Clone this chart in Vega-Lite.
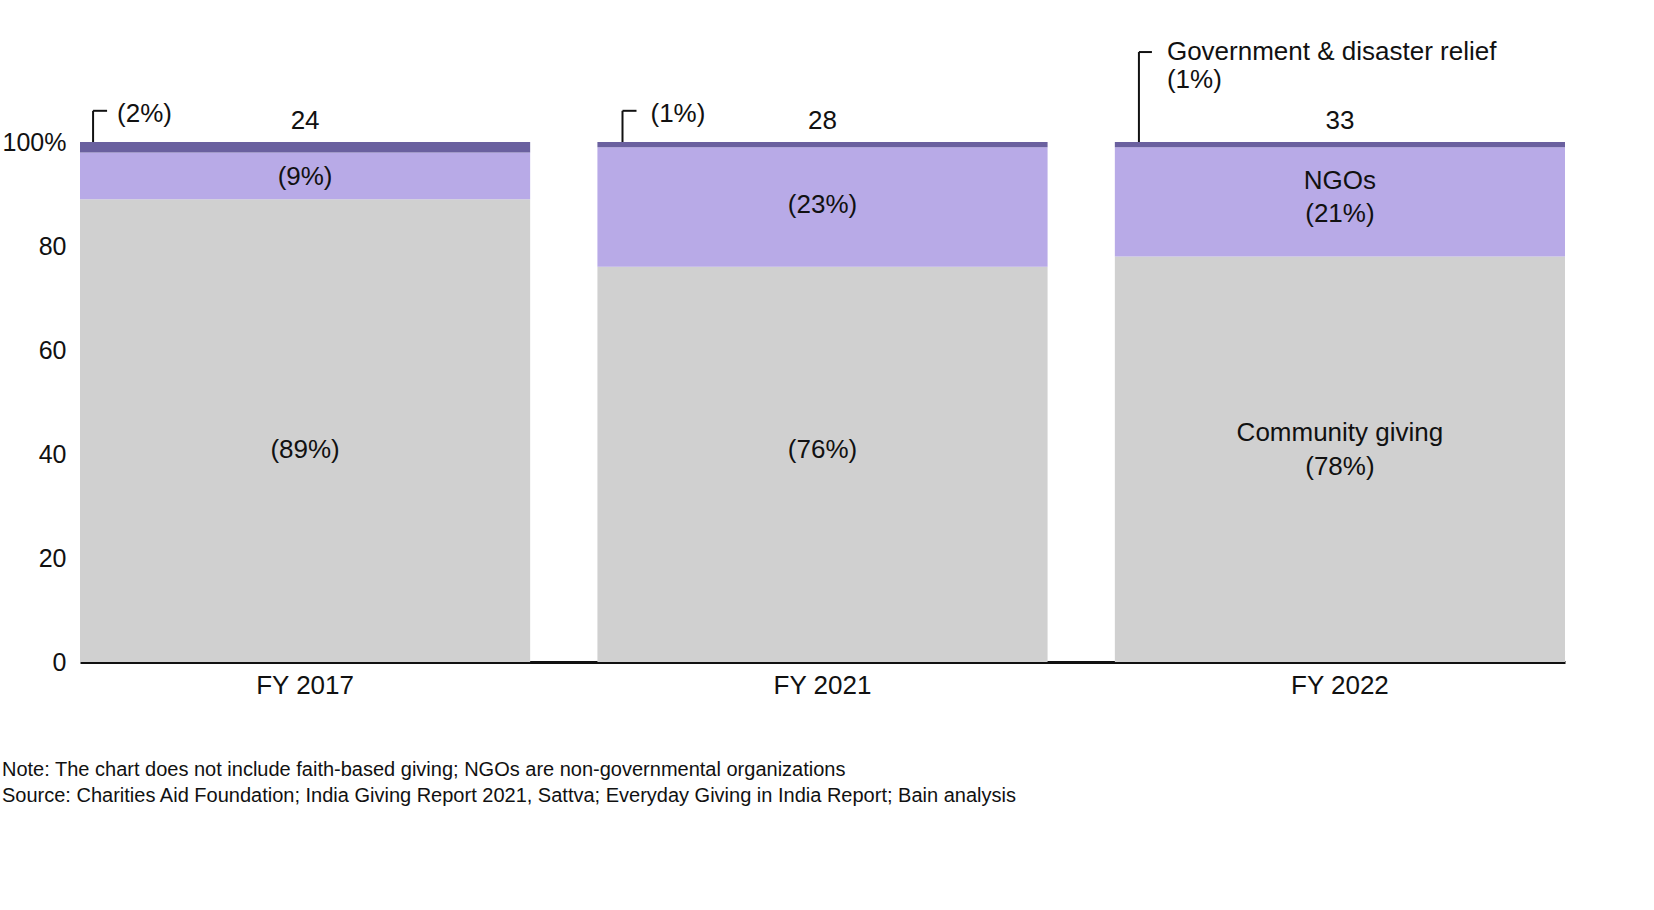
{
  "$schema": "https://vega.github.io/schema/vega-lite/v6.json",
  "autosize": "none",
  "width": 1485,
  "height": 520,
  "padding": {"left": 80, "top": 142, "right": 89, "bottom": 248},
  "background": "white",
  "config": {"font": "Liberation Sans", "view": {"stroke": null}},
  "title": {
    "text": ["Note: The chart does not include faith-based giving; NGOs are non-governmental organizations", "Source: Charities Aid Foundation; India Giving Report 2021, Sattva; Everyday Giving in India Report; Bain analysis"],
    "orient": "bottom", "anchor": "start", "frame": "group", "dx": -78, "offset": 62,
    "fontSize": 20, "fontWeight": "normal", "color": "#111", "lineHeight": 26
  },
  "datasets": {
    "segs": [
      {"year": "FY 2017", "seg": "Community giving", "v0": 0, "v1": 89},
      {"year": "FY 2017", "seg": "NGOs", "v0": 89, "v1": 98},
      {"year": "FY 2017", "seg": "Government", "v0": 98, "v1": 100},
      {"year": "FY 2021", "seg": "Community giving", "v0": 0, "v1": 76},
      {"year": "FY 2021", "seg": "NGOs", "v0": 76, "v1": 99},
      {"year": "FY 2021", "seg": "Government", "v0": 99, "v1": 100},
      {"year": "FY 2022", "seg": "Community giving", "v0": 0, "v1": 78},
      {"year": "FY 2022", "seg": "NGOs", "v0": 78, "v1": 99},
      {"year": "FY 2022", "seg": "Government", "v0": 99, "v1": 100}
    ],
    "labels": [
      {"year": "FY 2017", "y": 93.3, "t": "(9%)"},
      {"year": "FY 2017", "y": 40.8, "t": "(89%)"},
      {"year": "FY 2021", "y": 87.9, "t": "(23%)"},
      {"year": "FY 2021", "y": 40.8, "t": "(76%)"},
      {"year": "FY 2022", "y": 92.5, "t": "NGOs"},
      {"year": "FY 2022", "y": 86.2, "t": "(21%)"},
      {"year": "FY 2022", "y": 44, "t": "Community giving"},
      {"year": "FY 2022", "y": 37.5, "t": "(78%)"},
      {"year": "FY 2017", "y": 104, "t": "24"},
      {"year": "FY 2021", "y": 104, "t": "28"},
      {"year": "FY 2022", "y": 104, "t": "33"}
    ],
    "callouts": [
      {"year": "FY 2017", "y0": 100, "y1": 106, "t": "(2%)", "ty": 105.4},
      {"year": "FY 2021", "y0": 100, "y1": 106, "t": "(1%)", "ty": 105.4},
      {"year": "FY 2022", "y0": 100, "y1": 117.3, "t": "Government & disaster relief", "ty": 117.3}
    ]
  },
  "encoding": {
    "x": {"field": "year", "type": "nominal", "title": null, "sort": null,
      "scale": {"paddingInner": 0.13, "paddingOuter": 0},
      "axis": {"labelAngle": 0, "labelFontSize": 26, "labelColor": "#111", "ticks": false, "labelPadding": 10, "domainColor": "#111", "domainWidth": 3}}
  },
  "layer": [
    {
      "data": {"name": "segs"},
      "mark": {"type": "bar"},
      "encoding": {
        "y": {"field": "v0", "type": "quantitative", "title": null,
          "scale": {"domain": [0, 100], "nice": false},
          "axis": {"values": [0, 20, 40, 60, 80, 100], "labelExpr": "datum.value == 100 ? '100%' : datum.label", "labelFontSize": 25, "labelColor": "#111", "ticks": false, "domain": false, "grid": false, "labelPadding": 14}},
        "y2": {"field": "v1"},
        "color": {"field": "seg", "type": "nominal", "legend": null,
          "scale": {"domain": ["Community giving", "NGOs", "Government"], "range": ["#d0d0d0", "#b8aae7", "#6a609f"]}}
      }
    },
    {
      "data": {"name": "labels"},
      "mark": {"type": "text", "fontSize": 26, "color": "#111"},
      "encoding": {"y": {"field": "y", "type": "quantitative"}, "text": {"field": "t"}}
    },
    {
      "data": {"name": "callouts"},
      "transform": [{"filter": "datum.year == 'FY 2017'"}],
      "layer": [
        {"mark": {"type": "rule", "color": "#111", "strokeWidth": 2, "xOffset": -212}, "encoding": {"y": {"field": "y0", "type": "quantitative"}, "y2": {"field": "y1"}}},
        {"mark": {"type": "rule", "color": "#111", "strokeWidth": 2, "xOffset": -212, "x2Offset": -198}, "encoding": {"x2": {"field": "year"}, "y": {"field": "y1", "type": "quantitative"}}},
        {"mark": {"type": "text", "fontSize": 26, "color": "#111", "align": "left", "xOffset": -188}, "encoding": {"y": {"field": "ty", "type": "quantitative"}, "text": {"field": "t"}}}
      ]
    },
    {
      "data": {"name": "callouts"},
      "transform": [{"filter": "datum.year == 'FY 2021'"}],
      "layer": [
        {"mark": {"type": "rule", "color": "#111", "strokeWidth": 2, "xOffset": -200}, "encoding": {"y": {"field": "y0", "type": "quantitative"}, "y2": {"field": "y1"}}},
        {"mark": {"type": "rule", "color": "#111", "strokeWidth": 2, "xOffset": -200, "x2Offset": -186}, "encoding": {"x2": {"field": "year"}, "y": {"field": "y1", "type": "quantitative"}}},
        {"mark": {"type": "text", "fontSize": 26, "color": "#111", "align": "left", "xOffset": -172}, "encoding": {"y": {"field": "ty", "type": "quantitative"}, "text": {"field": "t"}}}
      ]
    },
    {
      "data": {"name": "callouts"},
      "transform": [{"filter": "datum.year == 'FY 2022'"}],
      "layer": [
        {"mark": {"type": "rule", "color": "#111", "strokeWidth": 2, "xOffset": -201}, "encoding": {"y": {"field": "y0", "type": "quantitative"}, "y2": {"field": "y1"}}},
        {"mark": {"type": "rule", "color": "#111", "strokeWidth": 2, "xOffset": -201, "x2Offset": -188}, "encoding": {"x2": {"field": "year"}, "y": {"field": "y1", "type": "quantitative"}}},
        {"mark": {"type": "text", "fontSize": 26, "color": "#111", "align": "left", "xOffset": -173}, "encoding": {"y": {"field": "ty", "type": "quantitative"}, "text": {"value": ["Government & disaster relief", "(1%)"]}}}
      ]
    }
  ]
}
